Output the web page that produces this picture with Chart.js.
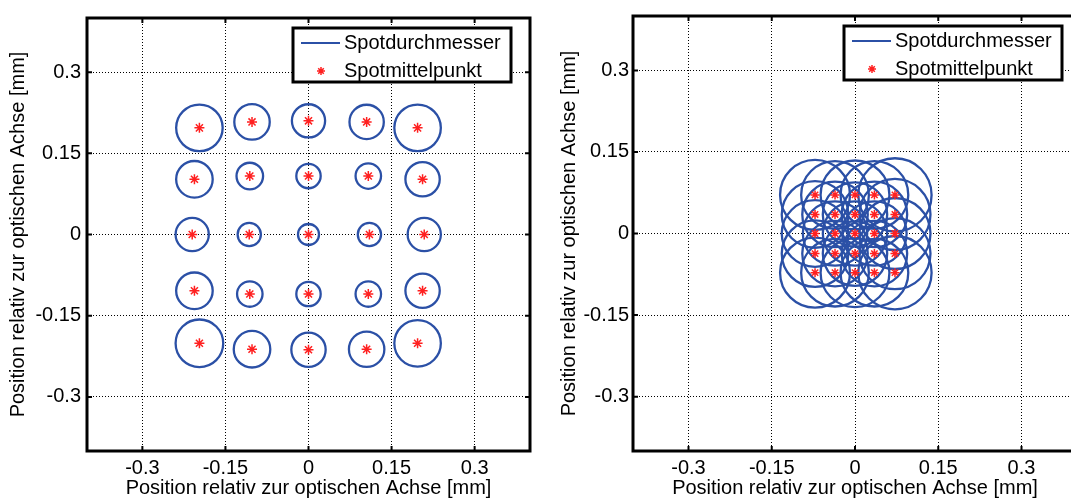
<!DOCTYPE html>
<html>
<head>
<meta charset="utf-8">
<script src="https://cdn.jsdelivr.net/npm/chart.js@4.4.1/dist/chart.umd.min.js"></script>
<style>
  html, body { margin: 0; padding: 0; background: #fff; overflow: hidden; }
  #wrap { position: relative; width: 1071px; height: 504px; overflow: hidden; }
  canvas { position: absolute; top: 0; }
  #leftChart { left: 0; }
  #rightChart { left: 545px; }
</style>
</head>
<body>
<div id="wrap">
  <canvas id="leftChart" width="545" height="504"></canvas>
  <canvas id="rightChart" width="545" height="504"></canvas>
</div>
<script>
// ticks and texts shared by both plots
const tickValues = [-0.3, -0.15, 0, 0.15, 0.3];
const tickLabels = ["-0.3", "-0.15", "0", "0.15", "0.3"];
const axisTitle = "Position relativ zur optischen Achse [mm]";
const legendLabels = ["Spotdurchmesser", "Spotmittelpunkt"];

// left plot: spot centres and radii in mm, row by row from the top
const leftX = [
  -0.197, -0.102, 0.000, 0.105, 0.197,
  -0.206, -0.106, 0.000, 0.108, 0.206,
  -0.210, -0.107, 0.000, 0.110, 0.209,
  -0.206, -0.106, 0.000, 0.108, 0.206,
  -0.197, -0.102, 0.000, 0.105, 0.197,
];
const leftY = [
  0.197, 0.208, 0.210, 0.208, 0.197,
  0.102, 0.108, 0.108, 0.108, 0.102,
  0.000, 0.000, 0.000, 0.000, 0.000,
  -0.104, -0.110, -0.110, -0.110, -0.104,
  -0.201, -0.212, -0.213, -0.212, -0.201,
];
const leftRadius = [
  0.042, 0.032, 0.030, 0.031, 0.042,
  0.033, 0.024, 0.022, 0.023, 0.031,
  0.030, 0.021, 0.019, 0.021, 0.030,
  0.033, 0.023, 0.022, 0.023, 0.031,
  0.043, 0.033, 0.031, 0.032, 0.042,
];

// right plot: spot centres and radii in mm
const rightX = [
  -0.072, -0.036, 0.000, 0.035, 0.072,
  -0.072, -0.036, 0.000, 0.035, 0.072,
  -0.072, -0.036, 0.000, 0.035, 0.072,
  -0.072, -0.036, 0.000, 0.035, 0.072,
  -0.072, -0.036, 0.000, 0.035, 0.072,
];
const rightY = [
  0.071, 0.071, 0.071, 0.071, 0.071,
  0.035, 0.035, 0.035, 0.035, 0.035,
  0.000, 0.000, 0.000, 0.000, 0.000,
  -0.037, -0.037, -0.037, -0.037, -0.037,
  -0.072, -0.072, -0.072, -0.072, -0.072,
];
const rightRadius = [
  0.063, 0.061, 0.062, 0.061, 0.066,
  0.060, 0.059, 0.058, 0.059, 0.064,
  0.060, 0.058, 0.058, 0.058, 0.064,
  0.060, 0.059, 0.058, 0.059, 0.064,
  0.063, 0.061, 0.062, 0.061, 0.066,
];

const blue = "#2b50a6";
const red = "#ff2020";

Chart.defaults.font.family = "'Liberation Sans', Arial, sans-serif";
Chart.defaults.font.size = 20;
Chart.defaults.color = "#000";

// box frame, inward tick marks and the legend inside the plot
const framePlugin = {
  id: "frame",
  afterDraw(chart, args, opts) {
    const { ctx, chartArea: a, scales } = chart;
    ctx.save();
    ctx.strokeStyle = "#000";
    ctx.lineWidth = 2;
    ctx.beginPath();
    tickValues.forEach((v) => {
      const px = scales.x.getPixelForValue(v);
      const py = scales.y.getPixelForValue(v);
      ctx.moveTo(px, a.top);
      ctx.lineTo(px, a.top + 5);
      ctx.moveTo(px, a.bottom);
      ctx.lineTo(px, a.bottom - 5);
      ctx.moveTo(a.left, py);
      ctx.lineTo(a.left + 5, py);
      ctx.moveTo(a.right, py);
      ctx.lineTo(a.right - 5, py);
    });
    ctx.stroke();
    ctx.lineWidth = 3;
    ctx.strokeRect(a.left, a.top, a.right - a.left, a.bottom - a.top);

    // legend
    const w = 218, h = 54;
    const bx = a.right - opts.right - w;
    const by = a.top + 10;
    ctx.fillStyle = "#fff";
    ctx.fillRect(bx, by, w, h);
    ctx.strokeRect(bx, by, w, h);

    ctx.strokeStyle = blue;
    ctx.lineWidth = 2;
    ctx.beginPath();
    ctx.moveTo(bx + 8, by + 15);
    ctx.lineTo(bx + 47, by + 15);
    ctx.stroke();

    const sx = bx + 28, sy = by + 43, sr = 4;
    ctx.strokeStyle = red;
    ctx.lineWidth = 1.5;
    ctx.beginPath();
    ctx.moveTo(sx - sr, sy); ctx.lineTo(sx + sr, sy);
    ctx.moveTo(sx, sy - sr); ctx.lineTo(sx, sy + sr);
    const d = sr * 0.7;
    ctx.moveTo(sx - d, sy - d); ctx.lineTo(sx + d, sy + d);
    ctx.moveTo(sx - d, sy + d); ctx.lineTo(sx + d, sy - d);
    ctx.stroke();

    ctx.fillStyle = "#000";
    ctx.font = "20px 'Liberation Sans', Arial, sans-serif";
    ctx.textBaseline = "middle";
    ctx.textAlign = "left";
    ctx.fillText(legendLabels[0], bx + 51, by + 15);
    ctx.fillText(legendLabels[1], bx + 51, by + 43);
    ctx.restore();
  },
};

function axisOptions(isX, o) {
  return {
    type: "linear",
    min: -0.4,
    max: 0.4,
    afterBuildTicks: (s) => {
      s.ticks = tickValues.map((v) => ({ value: v }));
    },
    afterFit: (s) => {
      if (isX) s.height = 53;
      else s.width = o.yWidth;
    },
    ticks: {
      autoSkip: false,
      maxRotation: 0,
      padding: isX ? 5 : o.tickPad,
      callback: (v, i) => tickLabels[i],
    },
    grid: { color: "#000", lineWidth: 1, drawTicks: false },
    border: { display: false, dash: [1, 2] },
    title: {
      display: true,
      text: axisTitle,
      padding: isX ? { top: 0, bottom: 4 } : { top: o.titlePad, bottom: 0 },
    },
  };
}

function makeChart(id, xs, ys, rs, o) {
  const circles = xs.map((x, i) => ({ x: x, y: ys[i], rad: rs[i] }));
  const centres = xs.map((x, i) => ({ x: x, y: ys[i] }));
  return new Chart(document.getElementById(id), {
    type: "scatter",
    data: {
      datasets: [
        {
          label: legendLabels[0],
          data: circles,
          order: 2,
          pointStyle: "circle",
          // spot radius in mm turned into pixels by the x scale
          pointRadius: (c) => {
            if (!c.raw) return 0;
            const s = c.chart.scales.x;
            const r = s.getPixelForValue(c.raw.rad) - s.getPixelForValue(0);
            return isFinite(r) ? r : 0;
          },
          pointBackgroundColor: "rgba(0,0,0,0)",
          pointBorderColor: blue,
          pointBorderWidth: 2.3,
        },
        {
          label: legendLabels[1],
          data: centres,
          order: 1,
          pointStyle: "star",
          pointRadius: o.star,
          pointBorderColor: red,
          pointBorderWidth: 1.5,
        },
      ],
    },
    options: {
      responsive: false,
      animation: false,
      events: [],
      layout: {
        autoPadding: false,
        padding: { top: o.top, right: o.right, left: 0, bottom: 0 },
      },
      plugins: {
        legend: { display: false },
        tooltip: { enabled: false },
        frame: { right: o.legendRight },
      },
      scales: {
        x: axisOptions(true, o),
        y: axisOptions(false, o),
      },
    },
    plugins: [framePlugin],
  });
}

makeChart("leftChart", leftX, leftY, leftRadius, {
  top: 9, right: 15, yWidth: 87, tickPad: 6, titlePad: 6, star: 5, legendRight: 19,
});
makeChart("rightChart", rightX, rightY, rightRadius, {
  top: 10, right: 13, yWidth: 88, tickPad: 4, titlePad: 12, star: 4.5, legendRight: 15,
});
</script>
</body>
</html>
